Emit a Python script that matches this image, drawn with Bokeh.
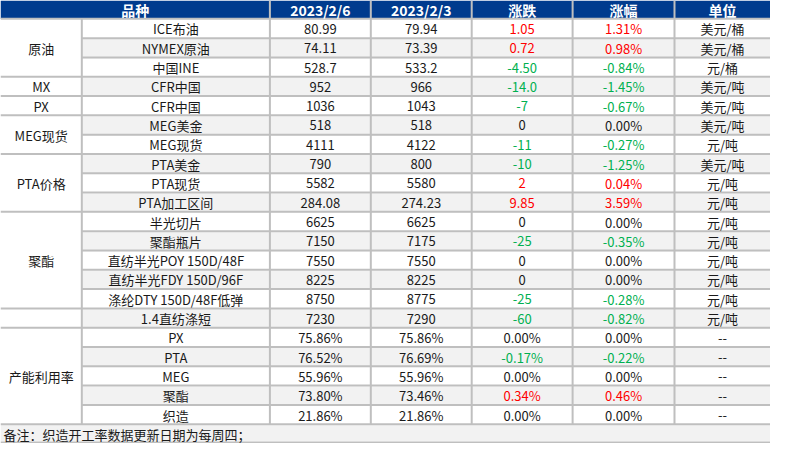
from bokeh.plotting import figure
from bokeh.models import Range1d
from bokeh.embed import file_html
from bokeh.resources import INLINE
from bokeh.core.properties import value

# ---------------- data ----------------
headers = ["品种", "2023/2/6", "2023/2/3", "涨跌", "涨幅", "单位"]
groups = ["原油", "MX", "PX", "MEG现货", "PTA价格", "聚酯", "", "产能利用率"]
group_sizes = [3, 1, 1, 2, 3, 5, 1, 5]
items = ["ICE布油", "NYMEX原油", "中国INE", "CFR中国", "CFR中国", "MEG美金", "MEG现货",
         "PTA美金", "PTA现货", "PTA加工区间", "半光切片", "聚酯瓶片", "直纺半光POY 150D/48F",
         "直纺半光FDY 150D/96F", "涤纶DTY 150D/48F低弹", "1.4直纺涤短",
         "PX", "PTA", "MEG", "聚酯", "织造"]
v_0206 = ["80.99", "74.11", "528.7", "952", "1036", "518", "4111", "790", "5582", "284.08",
          "6625", "7150", "7550", "8225", "8750", "7230",
          "75.86%", "76.52%", "55.96%", "73.80%", "21.86%"]
v_0203 = ["79.94", "73.39", "533.2", "966", "1043", "518", "4122", "800", "5580", "274.23",
          "6625", "7175", "7550", "8225", "8775", "7290",
          "75.86%", "76.69%", "55.96%", "73.46%", "21.86%"]
change = ["1.05", "0.72", "-4.50", "-14.0", "-7", "0", "-11", "-10", "2", "9.85",
          "0", "-25", "0", "0", "-25", "-60",
          "0.00%", "-0.17%", "0.00%", "0.34%", "0.00%"]
pct = ["1.31%", "0.98%", "-0.84%", "-1.45%", "-0.67%", "0.00%", "-0.27%", "-1.25%", "0.04%", "3.59%",
       "0.00%", "-0.35%", "0.00%", "0.00%", "-0.28%", "-0.82%",
       "0.00%", "-0.22%", "0.00%", "0.46%", "0.00%"]
units = ["美元/桶", "美元/桶", "元/桶", "美元/吨", "美元/吨", "美元/吨", "元/吨", "美元/吨", "元/吨", "元/吨",
         "元/吨", "元/吨", "元/吨", "元/吨", "元/吨", "元/吨",
         "--", "--", "--", "--", "--"]
note = "备注：织造开工率数据更新日期为每周四；"

# ---------------- layout ----------------
W, H = 786, 459
col_edges = [0, 83, 275, 378, 481, 584, 688, 786]
HEAD_H = 19
ROW_H = 20
TOP = 20
n = len(items)
FOOT_TOP = TOP + n * ROW_H

HEAD_BG = "#003B8E"
GRID = "#BFBFBF"
ALT = "#F2F2F2"
RED = "#FF0000"
GREEN = "#00B050"
TXT = "#1A1A1A"
FONT = value("Noto Sans CJK SC")
BODY_SIZE = "13px"


def sign_color(s):
    v = float(s.replace("%", ""))
    if v > 0:
        return RED
    if v < 0:
        return GREEN
    return TXT


p = figure(width=770, height=443, x_range=Range1d(0, W), y_range=Range1d(H, 0),
           output_backend="svg", toolbar_location=None, min_border=0)
p.axis.visible = False
p.grid.visible = False
p.outline_line_color = None
p.background_fill_color = "white"
p.border_fill_color = "white"

# header background
p.quad(left=[0], right=[W], top=[0], bottom=[HEAD_H], fill_color=HEAD_BG, line_color=None)

# alternating row shading (item column onwards)
gl, gr, gt, gb = [], [], [], []
for i in range(n):
    if i % 2 == 1:
        gl.append(col_edges[1]); gr.append(W)
        gt.append(TOP + i * ROW_H); gb.append(TOP + (i + 1) * ROW_H)
p.quad(left=gl, right=gr, top=gt, bottom=gb, fill_color=ALT, line_color=None)

# footer background
p.quad(left=[0], right=[W], top=[FOOT_TOP], bottom=[H - 2], fill_color=ALT, line_color=None)

# grid lines
x0, y0, x1, y1 = [], [], [], []
group_ends = []
acc = 0
for s in group_sizes:
    acc += s
    group_ends.append(acc)
for k in range(0, n + 1):
    y = TOP + k * ROW_H - 1
    x0.append(0 if (k == 0 or k in group_ends) else col_edges[1])
    x1.append(W); y0.append(y); y1.append(y)
for j, xe in enumerate(col_edges[1:-1]):
    start = HEAD_H if j == 0 else 0
    x0.append(xe); x1.append(xe); y0.append(start); y1.append(FOOT_TOP - 1)
p.segment(x0=x0, y0=y0, x1=x1, y1=y1, line_color=GRID, line_width=2)
p.segment(x0=[0], y0=[H - 1], x1=[W], y1=[H - 1], line_color=GRID, line_width=2)

# header text
hx = [(col_edges[0] + col_edges[2]) / 2] + [(col_edges[c] + col_edges[c + 1]) / 2 for c in range(2, 7)]
p.text(x=hx, y=[10] * len(hx), text=headers, text_align="center", text_baseline="middle",
       text_font=FONT, text_font_size="14px", text_font_style="bold", text_color="white")

# group labels
gx, gy = [], []
acc = 0
for s in group_sizes:
    gx.append((col_edges[0] + col_edges[1]) / 2)
    gy.append(TOP + (acc + s / 2) * ROW_H - 0.5)
    acc += s
p.text(x=gx, y=gy, text=groups, text_align="center", text_baseline="middle",
       text_font=FONT, text_font_size=BODY_SIZE, text_color=TXT)

# body cells
cols = [items, v_0206, v_0203, change, pct, units]
ys = [TOP + (i + 0.5) * ROW_H - 0.5 for i in range(n)]
for c, data in enumerate(cols):
    cx = (col_edges[c + 1] + col_edges[c + 2]) / 2
    if c in (3, 4):
        colors = [sign_color(s) for s in change]
    else:
        colors = [TXT] * n
    p.text(x=[cx] * n, y=ys, text=data, text_align="center", text_baseline="middle",
           text_font=FONT, text_font_size=BODY_SIZE, text_color=colors)

# footer note
p.text(x=[3], y=[FOOT_TOP + 9.5], text=[note], text_align="left", text_baseline="middle",
       text_font=FONT, text_font_size=BODY_SIZE, text_color=TXT)

open("out.html", "w").write(file_html(p, INLINE))
